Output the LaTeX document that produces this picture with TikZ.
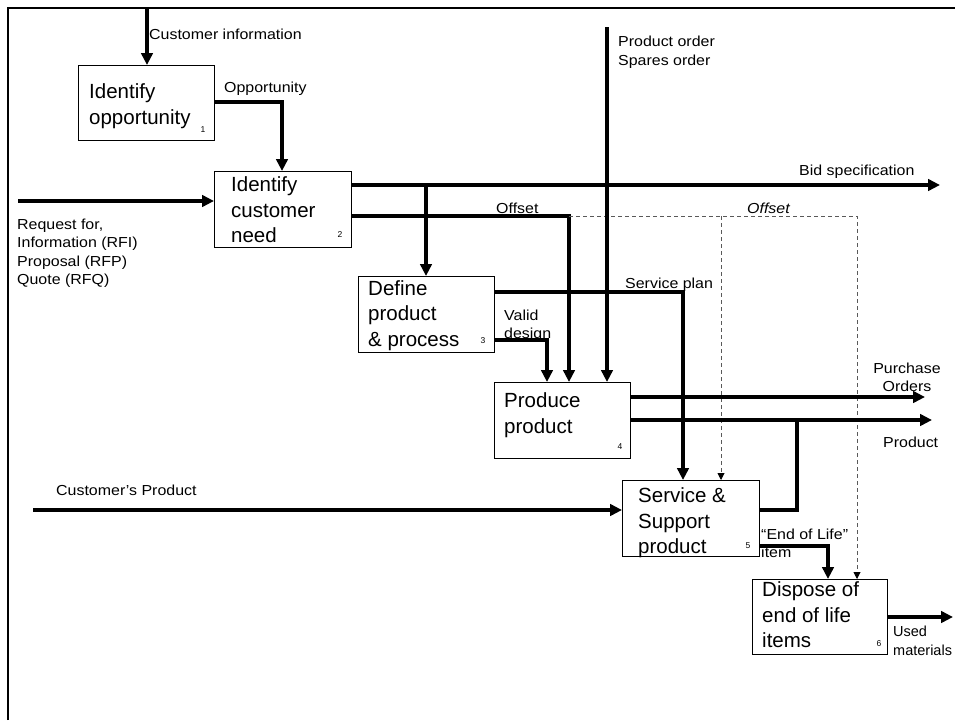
\documentclass[tikz,border=0pt]{standalone}
\usepackage{fontspec}
\setmainfont{Liberation Sans}
\newfontfamily\lblfont{Liberation Sans}[FakeStretch=1.1]
\usetikzlibrary{arrows.meta,calc}
\begin{document}
\begin{tikzpicture}[x=1pt,y=-1pt,
    proc/.style={draw, line width=0.9pt, anchor=north west, inner sep=0pt},
    ptext/.style={anchor=north west, inner sep=0pt, align=left, font=\fontsize{20.5}{25.5}\selectfont},
    pnum/.style={inner sep=0pt, font=\fontsize{8.5}{10}\selectfont},
    lbl/.style={inner sep=0pt, align=left, font=\lblfont\fontsize{14.5}{18.5}\selectfont},
    flow/.style={line width=3.6pt, -{Triangle[length=12pt,width=11.5pt]}},
    bar/.style={line width=3.6pt},
    ctrl/.style={line width=0.9pt, dash pattern=on 4pt off 3pt, draw=black!65, -{Triangle[length=7pt,width=7pt,color=black]}}]
      \useasboundingbox (0,0) rectangle (955,720);
      \draw[line width=2.5pt] (8,720) -- (8,8) -- (955,8);

      \node[proc, minimum width=136, minimum height=75] (p_1) at (78,65) {};
      \node[proc, minimum width=137, minimum height=76] (p_2) at (214,171) {};
      \node[proc, minimum width=136, minimum height=76] (p_3) at (358,276) {};
      \node[proc, minimum width=136, minimum height=76] (p_4) at (494,382) {};
      \node[proc, minimum width=137, minimum height=76] (p_5) at (622,480) {};
      \node[proc, minimum width=135, minimum height=75] (p_6) at (752,579) {};

      \node[ptext] (t_1) at (89,83.7) {Identify\\opportunity};
      \node[ptext] (t_2) at (231,176.7) {Identify\\customer\\need};
      \node[ptext] (t_3) at (368,280) {Define\\product\\\& process};
      \node[ptext] (t_4) at (504,392.7) {Produce\\product};
      \node[ptext] (t_5) at (638,487.7) {Service \&\\Support\\product};
      \node[ptext] (t_6) at (762,581.7) {Dispose of\\end of life\\items};

      \node[pnum] (n_1) at (203,130) {1};
      \node[pnum] (n_2) at (340,235) {2};
      \node[pnum] (n_3) at (483,341) {3};
      \node[pnum] (n_4) at (620,447) {4};
      \node[pnum] (n_5) at (748,546) {5};
      \node[pnum] (n_6) at (879,644) {6};

      \coordinate (c_custinfo) at (147,8);
      \coordinate (c_rfi) at (18,201);
      \coordinate (c_bid) at (940,185);
      \coordinate (c_def) at (426,185);
      \coordinate (c_off) at (569,216);
      \coordinate (c_off5) at (721,216);
      \coordinate (c_off6) at (857,216);
      \coordinate (c_ord) at (607,27);
      \coordinate (c_splan) at (683,292);
      \coordinate (c_valid) at (547,340);
      \coordinate (c_po) at (925,397);
      \coordinate (c_prod) at (932,420);
      \coordinate (c_join) at (797,420);
      \coordinate (c_s5) at (797,510);
      \coordinate (c_cust) at (33,510);
      \coordinate (c_eol) at (828,546);
      \coordinate (c_used) at (953,617);

      \draw[flow] (c_custinfo) -- (c_custinfo |- p_1.north);
      \draw[flow] (p_1.east |- 0,102) -| ($(p_2.north west)+(68,0)$);
      \draw[flow] (c_rfi) -- (c_rfi -| p_2.west);
      \draw[flow] (c_bid -| p_2.east) -- (c_bid);
      \draw[flow] (c_def) -- (c_def |- p_3.north);
      \draw[flow] (c_off -| p_2.east) -| (c_off |- p_4.north);
      \draw[ctrl] (c_off) -| (c_off6 |- p_6.north);
      \draw[ctrl] (c_off5) -- (c_off5 |- p_5.north);
      \draw[flow] (c_ord) -- (c_ord |- p_4.north);
      \draw[flow] (c_splan -| p_3.east) -| (c_splan |- p_5.north);
      \draw[flow] (c_valid -| p_3.east) -| (c_valid |- p_4.north);
      \draw[flow] (c_po -| p_4.east) -- (c_po);
      \draw[flow] (c_prod -| p_4.east) -- (c_prod);
      \draw[bar] (c_s5 -| p_5.east) -| (c_join);
      \draw[flow] (c_cust) -- (c_cust -| p_5.west);
      \draw[flow] (c_eol -| p_5.east) -| (c_eol |- p_6.north);
      \draw[flow] (c_used -| p_6.east) -- (c_used);

      \node[lbl, anchor=base west] (l_custinfo) at (149,39.5) {Customer information};
      \node[lbl, anchor=base west] (l_opp) at (224,92.7) {Opportunity};
      \node[lbl, anchor=north west] (l_rfi) at (17,218.5) {Request for,\\Information (RFI)\\Proposal (RFP)\\Quote (RFQ)};
      \node[lbl, anchor=base west] (l_bid) at (799,175.7) {Bid specification};
      \node[lbl, anchor=base west] (l_off) at (496,213) {Offset};
      \node[lbl, anchor=base west, font=\lblfont\fontsize{14.5}{18.5}\selectfont\itshape] (l_off2) at (747,213) {Offset};
      \node[lbl, anchor=north west] (l_ord) at (618,36) {Product order\\Spares order};
      \node[lbl, anchor=base west] (l_splan) at (625,288) {Service plan};
      \node[lbl, anchor=north west] (l_valid) at (504,309.5) {Valid\\design};
      \node[lbl, anchor=north, align=center] (l_po) at (907,362.5) {Purchase\\Orders};
      \node[lbl, anchor=base west] (l_prod) at (883,447.7) {Product};
      \node[lbl, anchor=base west] (l_cust) at (56,495.7) {Customer’s Product};
      \node[lbl, anchor=north west] (l_eol) at (761,528.5) {“End of Life”\\item};
      \node[lbl, anchor=north west, font=\fontsize{14.5}{18.5}\selectfont] (l_used) at (893,626) {Used\\materials};
    \end{tikzpicture}
\end{document}
